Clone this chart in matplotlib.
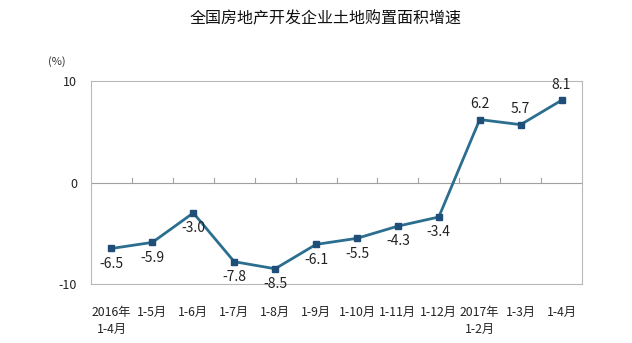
import matplotlib
matplotlib.use("Agg")
import matplotlib.pyplot as plt
import numpy as np

plt.rcParams['font.family'] = ['Noto Sans CJK SC', 'DejaVu Sans']

categories = ["2016年\n1-4月", "1-5月", "1-6月", "1-7月", "1-8月", "1-9月", "1-10月",
              "1-11月", "1-12月", "2017年\n1-2月", "1-3月", "1-4月"]
values = [-6.5, -5.9, -3.0, -7.8, -8.5, -6.1, -5.5, -4.3, -3.4, 6.2, 5.7, 8.1]
yticks = [-10, 0, 10]

fig = plt.figure(figsize=(6.32, 3.43), dpi=100)
W, H = 632, 343
ax = fig.add_axes([91 / W, 1 - 284 / H, (582 - 91) / W, (284 - 81) / H])

x = np.arange(len(values))
line_color = "#2B6E8F"
marker_color = "#1F4E79"
ax.plot(x, values, color=line_color, lw=2, zorder=3)
ax.plot(x, values, ls='none', marker='s', ms=5, color=marker_color, zorder=4)

ax.set_xlim(-0.5, len(values) - 0.5)
ax.set_ylim(-10, 10)
ax.axhline(0, color="#A0A0A0", lw=0.8, zorder=1)
for b in np.arange(0.5, len(values) - 0.5, 1):
    ax.plot([b, b], [0, 0.4], color="#A0A0A0", lw=0.8, zorder=1)

for s in ax.spines.values():
    s.set_color("#B8B8B8")
    s.set_linewidth(0.8)

ax.set_yticks(yticks)
ax.set_yticklabels([str(v) for v in yticks], fontsize=9, color="#222222")
ax.tick_params(axis='y', length=0, pad=10)
ax.set_xticks(x)
ax.set_xticklabels(categories, fontsize=8.8, color="#222222", linespacing=1.35, va='top')
ax.tick_params(axis='x', length=0, pad=16)

for xi, v in zip(x, values):
    if v > 0:
        ax.annotate(f"{v:.1f}", (xi, v), xytext=(0, 6), textcoords='offset points',
                    ha='center', va='bottom', fontsize=10, color="#222222")
    else:
        ax.annotate(f"{v:.1f}", (xi, v), xytext=(0, -6), textcoords='offset points',
                    ha='center', va='top', fontsize=10, color="#222222")

fig.text(57 / W, 1 - 62 / H, "(%)", fontsize=8, color="#333333", ha='center', va='center')
fig.text(326 / W, 1 - 19 / H, "全国房地产开发企业土地购置面积增速", fontsize=11.5,
         ha='center', va='center', color="#111111")

fig.savefig("out.png", dpi=100)
